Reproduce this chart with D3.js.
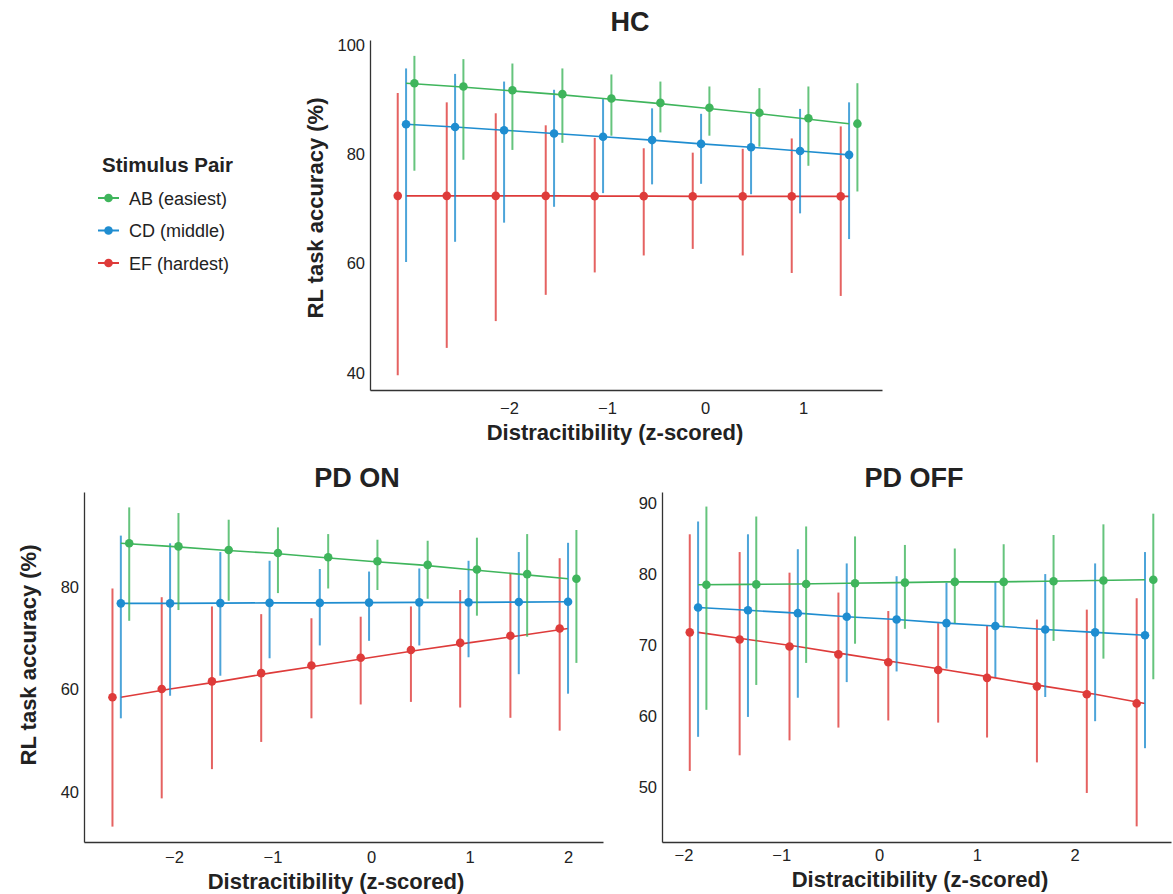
<!DOCTYPE html>
<html>
<head>
<meta charset="utf-8">
<script src="https://cdn.jsdelivr.net/npm/d3@7"></script>
<style>
  body { margin: 0; background: #fff; }
  svg { display: block; }
  text { font-family: "Liberation Sans", Arial, Helvetica, sans-serif; fill: #222; }
</style>
</head>
<body>
<svg id="chart" width="1173" height="894"></svg>
<script>
const pairs = ["AB (easiest)", "CD (middle)", "EF (hardest)"];
const pairColors = ["#3fb55c", "#1f8dd0", "#de3b3a"];
const dodgeSteps = [1, 0, -1];

// distractibility values (z-scored) at which predictions are shown
const hcX = [-3.05, -2.55, -2.05, -1.54, -1.04, -0.54, -0.04, 0.47, 0.97, 1.47];
const onX = [-2.54, -2.04, -1.53, -1.03, -0.52, -0.02, 0.49, 0.99, 1.50, 2.00];
const offX = [-1.85, -1.34, -0.83, -0.33, 0.18, 0.69, 1.19, 1.70, 2.21, 2.72];

// [predicted accuracy, lower, upper]
const hcAB = [[93.0, 77.0, 98.0], [92.4, 79.0, 97.4], [91.7, 80.8, 96.6], [91.0, 82.1, 95.7], [90.2, 83.4, 94.6],
  [89.4, 84.0, 93.3], [88.5, 83.4, 92.4], [87.6, 81.4, 92.1], [86.6, 77.9, 92.4], [85.6, 73.2, 93.0]];
const hcCD = [[85.5, 60.3, 95.7], [85.0, 64.0, 94.7], [84.4, 67.5, 93.3], [83.8, 70.4, 91.8], [83.2, 72.9, 90.1],
  [82.6, 74.5, 88.4], [81.9, 74.6, 87.4], [81.3, 72.7, 87.5], [80.6, 69.2, 88.3], [79.9, 64.5, 89.5]];
const hcEF = [[72.4, 39.6, 91.2], [72.4, 44.6, 89.5], [72.4, 49.5, 87.5], [72.4, 54.3, 85.3], [72.35, 58.4, 83.0],
  [72.35, 61.5, 81.1], [72.3, 62.7, 80.3], [72.3, 61.5, 81.0], [72.3, 58.3, 82.9], [72.3, 54.1, 85.1]];

const onAB = [[88.5, 73.4, 95.5], [87.9, 75.5, 94.4], [87.2, 77.3, 93.1], [86.6, 78.8, 91.6], [85.8, 79.7, 90.3],
  [85.0, 79.4, 89.2], [84.3, 77.7, 89.0], [83.4, 74.4, 89.6], [82.5, 70.3, 90.3], [81.6, 65.2, 91.1]];
const onCD = [[76.8, 54.4, 90.0], [76.8, 58.8, 88.5], [76.85, 62.7, 86.8], [76.9, 66.1, 85.1], [76.9, 68.6, 83.5],
  [76.95, 69.5, 83.0], [77.0, 68.6, 83.6], [77.0, 66.3, 85.1], [77.05, 63.0, 86.8], [77.1, 59.2, 88.6]];
const onEF = [[58.5, 33.3, 79.7], [60.1, 38.8, 78.0], [61.6, 44.5, 76.2], [63.2, 49.8, 74.7], [64.7, 54.4, 73.9],
  [66.2, 57.1, 74.2], [67.7, 57.6, 76.2], [69.1, 56.5, 79.4], [70.5, 54.5, 82.6], [71.9, 52.0, 85.6]];

const offAB = [[78.5, 60.9, 89.5], [78.55, 64.4, 88.1], [78.6, 67.5, 86.7], [78.7, 70.2, 85.3], [78.8, 72.3, 84.1],
  [78.9, 73.1, 83.6], [78.9, 72.5, 84.2], [79.0, 70.6, 85.5], [79.1, 68.1, 87.0], [79.2, 65.2, 88.5]];
const offCD = [[75.3, 57.1, 87.4], [74.9, 59.9, 85.6], [74.5, 62.6, 83.5], [74.0, 64.8, 81.5], [73.6, 66.3, 79.7],
  [73.1, 66.7, 78.8], [72.7, 65.5, 79.0], [72.2, 62.7, 80.0], [71.8, 59.3, 81.5], [71.4, 55.5, 83.1]];
const offEF = [[71.8, 52.3, 85.6], [70.8, 54.5, 83.1], [69.8, 56.6, 80.2], [68.7, 58.4, 77.4], [67.6, 59.4, 74.8],
  [66.5, 59.1, 73.1], [65.4, 57.0, 72.8], [64.2, 53.5, 73.6], [63.1, 49.2, 75.0], [61.8, 44.5, 76.6]];

const hcXTicks = [-2, -1, 0, 1];
const hcYTicks = [40, 60, 80, 100];
const onXTicks = [-2, -1, 0, 1, 2];
const onYTicks = [40, 60, 80];
const offXTicks = [-2, -1, 0, 1, 2];
const offYTicks = [50, 60, 70, 80, 90];

const xLabel = "Distracitibility (z-scored)";
const yLabel = "RL task accuracy (%)";

const panels = [
  { title: "HC", titleX: 630, titleY: 31, x: hcX, series: [hcAB, hcCD, hcEF],
    left: 370, right: 882, top: 40, bottom: 390, xDomain: [-3.418, 1.806], yDomain: [36.9, 100.9],
    xTicks: hcXTicks, yTicks: hcYTicks, xTickPad: 12,
    xLabelX: 615, xLabelY: 440, yLabelX: 323, yLabelY: 208 },
  { title: "PD ON", titleX: 357, titleY: 487, x: onX, series: [onAB, onCD, onEF],
    left: 84, right: 603, top: 492, bottom: 842, xDomain: [-2.914, 2.355], yDomain: [30.3, 98.5],
    xTicks: onXTicks, yTicks: onYTicks, xTickPad: 9,
    xLabelX: 336, xLabelY: 889, yLabelX: 36, yLabelY: 655 },
  { title: "PD OFF", titleX: 914, titleY: 487, x: offX, series: [offAB, offCD, offEF],
    left: 662, right: 1171, top: 492, bottom: 842, xDomain: [-2.219, 2.986], yDomain: [42.3, 91.55],
    xTicks: offXTicks, yTicks: offYTicks, xTickPad: 7,
    xLabelX: 920, xLabelY: 887, yLabelX: null, yLabelY: null },
];

const svg = d3.select("#chart");
const dodge = 0.085;
const tickFormat = d3.format("d");

const drawPanel = (p) => {
  const x = d3.scaleLinear().domain(p.xDomain).range([p.left, p.right]);
  const y = d3.scaleLinear().domain(p.yDomain).range([p.bottom, p.top]);
  const g = svg.append("g");

  const styleAxis = (axisG) => {
    axisG.select(".domain").attr("stroke", "#333").attr("stroke-width", 1.3);
    axisG.selectAll("text").attr("font-size", 16.5).attr("fill", "#2a2a2a")
      .attr("font-family", '"Liberation Sans", Arial, sans-serif');
  };

  g.append("g")
    .attr("transform", `translate(0,${p.bottom})`)
    .call(d3.axisBottom(x).tickValues(p.xTicks).tickFormat(tickFormat)
      .tickSize(0).tickSizeOuter(0).tickPadding(p.xTickPad))
    .call(styleAxis);

  g.append("g")
    .attr("transform", `translate(${p.left},0)`)
    .call(d3.axisLeft(y).tickValues(p.yTicks).tickFormat(tickFormat)
      .tickSize(0).tickSizeOuter(0).tickPadding(5))
    .call(styleAxis);

  // draw EF first so AB ends up on top
  [2, 1, 0].forEach((si) => {
    const rows = p.series[si].map((d, i) => ({ x: p.x[i], mean: d[0], lo: d[1], hi: d[2] }));
    const color = pairColors[si];
    const xd = (d) => x(d.x + dodgeSteps[si] * dodge);
    const sg = g.append("g");

    sg.selectAll("line.err")
      .data(rows)
      .join("line")
      .attr("class", "err")
      .attr("x1", xd)
      .attr("x2", xd)
      .attr("y1", (d) => y(d.lo))
      .attr("y2", (d) => y(d.hi))
      .attr("stroke", color)
      .attr("stroke-opacity", 0.8)
      .attr("stroke-width", 2);

    sg.append("path")
      .datum(rows)
      .attr("fill", "none")
      .attr("stroke", color)
      .attr("stroke-width", 1.6)
      .attr("d", d3.line().x((d) => x(d.x)).y((d) => y(d.mean)));

    sg.selectAll("circle")
      .data(rows)
      .join("circle")
      .attr("cx", xd)
      .attr("cy", (d) => y(d.mean))
      .attr("r", 4.3)
      .attr("fill", color);
  });

  g.append("text")
    .attr("x", p.titleX)
    .attr("y", p.titleY)
    .attr("text-anchor", "middle")
    .attr("font-size", 27)
    .attr("font-weight", "bold")
    .text(p.title);

  g.append("text")
    .attr("x", p.xLabelX)
    .attr("y", p.xLabelY)
    .attr("text-anchor", "middle")
    .attr("font-size", 22)
    .attr("font-weight", "bold")
    .text(xLabel);

  if (p.yLabelX !== null) {
    g.append("text")
      .attr("transform", `translate(${p.yLabelX},${p.yLabelY}) rotate(-90)`)
      .attr("text-anchor", "middle")
      .attr("font-size", 22)
      .attr("font-weight", "bold")
      .text(yLabel);
  }
};

panels.forEach(drawPanel);

// legend
const legend = svg.append("g").attr("transform", "translate(98,0)");
legend.append("text")
  .attr("x", 4)
  .attr("y", 172)
  .attr("font-size", 20.5)
  .attr("font-weight", "bold")
  .text("Stimulus Pair");

const item = legend.selectAll("g.item")
  .data(pairs)
  .join("g")
  .attr("class", "item")
  .attr("transform", (d, i) => `translate(0,${198 + i * 32.5})`);

item.append("line")
  .attr("x1", 0).attr("x2", 21)
  .attr("stroke", (d, i) => pairColors[i])
  .attr("stroke-width", 2);

item.append("circle")
  .attr("cx", 10.5)
  .attr("r", 4.3)
  .attr("fill", (d, i) => pairColors[i]);

item.append("text")
  .attr("x", 31)
  .attr("y", 6.5)
  .attr("font-size", 18)
  .text((d) => d);
</script>
</body>
</html>
